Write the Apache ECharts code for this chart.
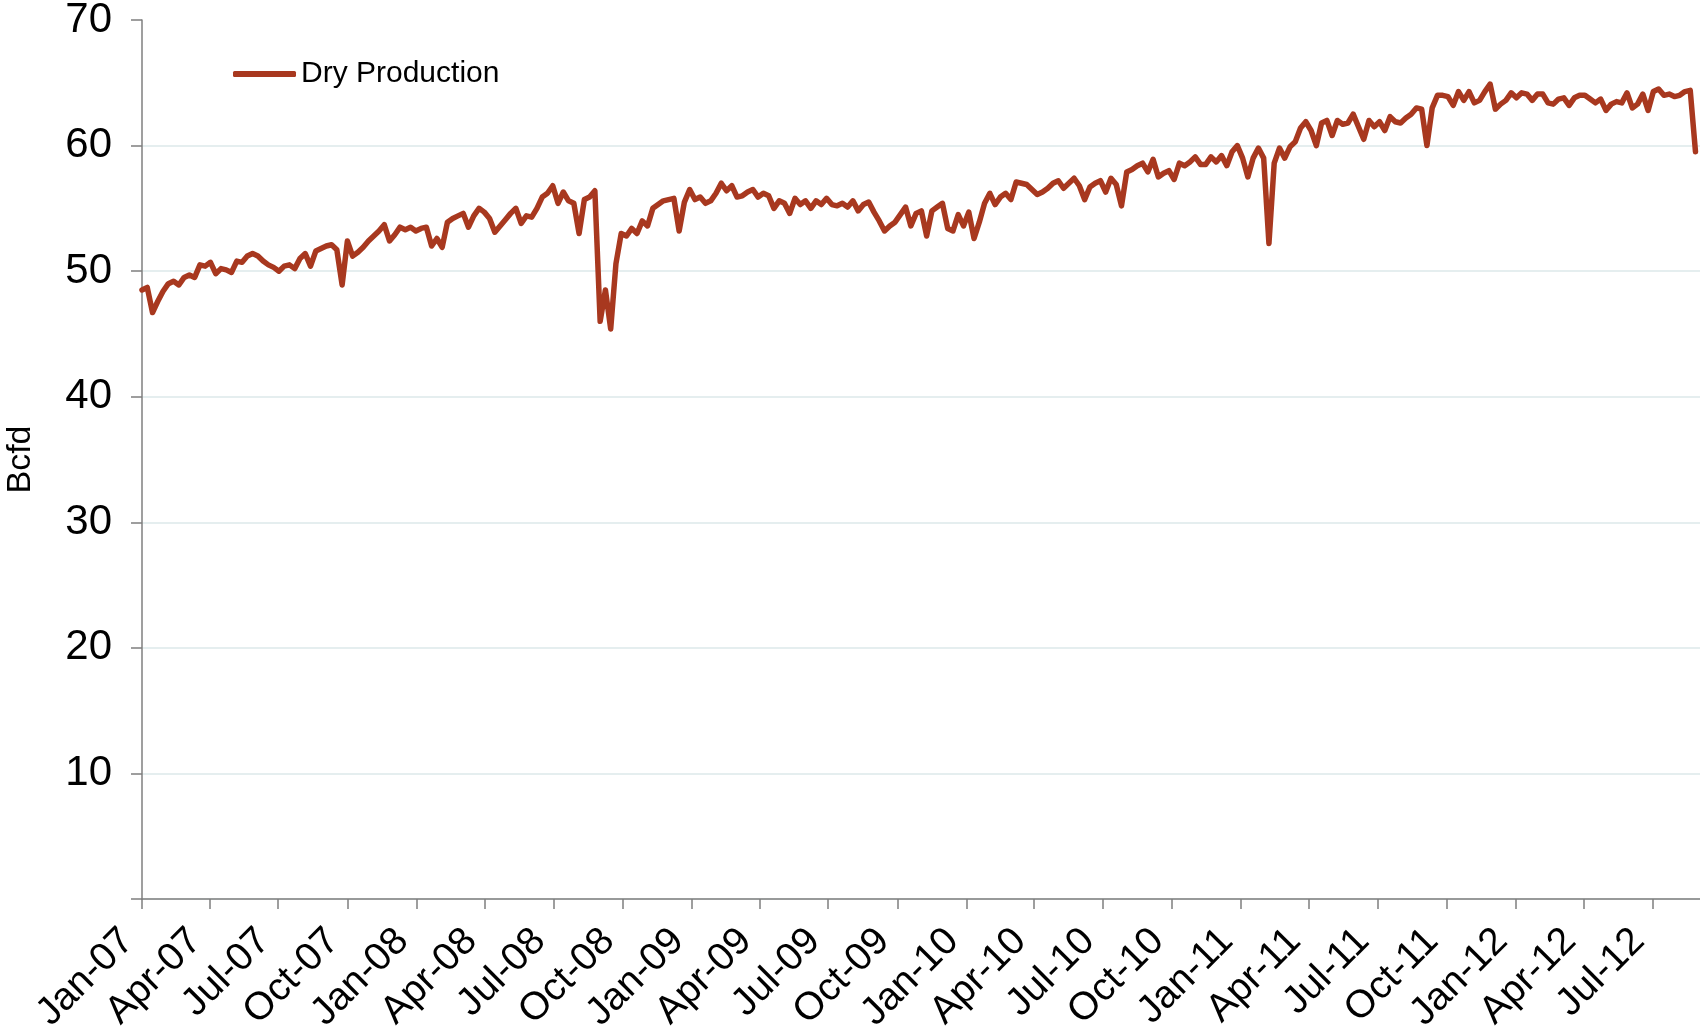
<!DOCTYPE html>
<html>
<head>
<meta charset="utf-8">
<title>Dry Production</title>
<script src="https://cdn.jsdelivr.net/npm/echarts@6/dist/echarts.min.js"></script>
<style>
  html, body { margin: 0; padding: 0; background: #fff; }
  #chart { width: 1700px; height: 1029px; }
</style>
</head>
<body>
<div id="chart"></div>
<script>
// weekly readings, consecutive weeks starting 2007-01-01 (Bcfd)
const startDate = '2007-01-01';
const stepDays = 7;

const dry2007 = [48.5, 48.7, 46.7, 47.6, 48.4, 49.0, 49.2, 48.9, 49.5, 49.7, 49.5, 50.5, 50.4,
	50.7, 49.8, 50.2, 50.1, 49.9, 50.8, 50.7, 51.2, 51.4, 51.2, 50.8, 50.5, 50.3,
	50.0, 50.4, 50.5, 50.2, 51.0, 51.4, 50.4, 51.6, 51.8, 52.0, 52.1, 51.7, 48.9,
	52.4, 51.2, 51.5, 51.9, 52.4, 52.8, 53.2, 53.7, 52.4, 52.9, 53.5, 53.3, 53.5, 53.2];
const dry2008 = [53.4, 53.5, 52.0, 52.6, 51.9, 53.9, 54.2, 54.4, 54.6, 53.5, 54.4, 55.0, 54.7,
	54.2, 53.1, 53.6, 54.1, 54.6, 55.0, 53.8, 54.4, 54.3, 55.0, 55.9, 56.2, 56.8,
	55.4, 56.3, 55.6, 55.4, 53.0, 55.7, 55.9, 56.4, 46.0, 48.5, 45.4, 50.6, 53.0,
	52.8, 53.4, 53.0, 54.0, 53.6, 55.0, 55.3, 55.6, 55.7, 55.8, 53.2, 55.5, 56.5];
const dry2009 = [55.7, 55.9, 55.4, 55.6, 56.2, 57.0, 56.4, 56.8, 55.9, 56.0, 56.3, 56.5, 55.9,
	56.2, 56.0, 55.0, 55.6, 55.4, 54.6, 55.8, 55.3, 55.6, 55.0, 55.6, 55.3, 55.8,
	55.3, 55.2, 55.4, 55.1, 55.6, 54.8, 55.3, 55.5, 54.7, 54.0, 53.2, 53.6, 53.9,
	54.5, 55.1, 53.6, 54.6, 54.8, 52.8, 54.8, 55.1, 55.4, 53.4, 53.2, 54.5, 53.6];
const dry2010 = [54.7, 52.6, 53.9, 55.4, 56.2, 55.3, 55.9, 56.2, 55.7, 57.1, 57.0, 56.9, 56.5,
	56.1, 56.3, 56.6, 57.0, 57.2, 56.6, 57.0, 57.4, 56.8, 55.7, 56.7, 57.0, 57.2,
	56.3, 57.4, 56.9, 55.2, 57.9, 58.1, 58.4, 58.6, 57.9, 58.9, 57.5, 57.8, 58.0,
	57.3, 58.6, 58.4, 58.7, 59.1, 58.5, 58.5, 59.1, 58.7, 59.2, 58.4, 59.5, 60.0];
const dry2011 = [59.0, 57.5, 59.0, 59.8, 59.0, 52.2, 58.6, 59.8, 59.0, 59.9, 60.3, 61.4, 61.9,
	61.2, 60.0, 61.8, 62.0, 60.8, 62.0, 61.7, 61.8, 62.5, 61.5, 60.5, 62.0, 61.5,
	61.9, 61.2, 62.3, 61.9, 61.8, 62.2, 62.5, 63.0, 62.9, 60.0, 63.0, 64.0, 64.0,
	63.9, 63.2, 64.3, 63.6, 64.3, 63.4, 63.6, 64.3, 64.9, 62.9, 63.3, 63.6, 64.2];
const dry2012 = [63.8, 64.2, 64.1, 63.6, 64.1, 64.1, 63.4, 63.3, 63.7, 63.8, 63.2, 63.8, 64.0,
	64.0, 63.7, 63.4, 63.7, 62.8, 63.3, 63.5, 63.4, 64.2, 63.0, 63.3, 64.1, 62.8,
	64.3, 64.5, 64.0, 64.1, 63.9, 64.0, 64.3, 64.4, 59.5];

const tickLabels = ['Jan-07', 'Apr-07', 'Jul-07', 'Oct-07', 'Jan-08', 'Apr-08', 'Jul-08', 'Oct-08',
	'Jan-09', 'Apr-09', 'Jul-09', 'Oct-09', 'Jan-10', 'Apr-10', 'Jul-10', 'Oct-10',
	'Jan-11', 'Apr-11', 'Jul-11', 'Oct-11', 'Jan-12', 'Apr-12', 'Jul-12'];
const axisEndDate = '2012-09-02';

const months = ['Jan', 'Feb', 'Mar', 'Apr', 'May', 'Jun', 'Jul', 'Aug', 'Sep', 'Oct', 'Nov', 'Dec'];
const dayMs = 86400000;
const t0 = Date.parse(startDate + 'T00:00:00Z');

// day offset of the first day of each labelled month
const tickDays = tickLabels.map((lab) => {
	const [mon, yy] = lab.split('-');
	const t = Date.UTC(2000 + parseInt(yy), months.indexOf(mon), 1);
	return Math.round((t - t0) / dayMs);
});
const axisMax = Math.round((Date.parse(axisEndDate + 'T00:00:00Z') - t0) / dayMs);

const allValues = [].concat(dry2007, dry2008, dry2009, dry2010, dry2011, dry2012);
const seriesData = allValues.map((v, i) => [i * stepDays, v]);

const font = 'Liberation Sans, Arial, sans-serif';
const lineColor = '#a8381f';
const axisColor = '#7f7f7f';

var myChart = echarts.init(document.getElementById('chart'), null, { renderer: 'canvas' });

var option = {
	animation: false,
	backgroundColor: '#ffffff',
	grid: {
		left: 142,
		right: 0,
		top: 20,
		bottom: 130,
		containLabel: false,
		outerBoundsMode: 'none'
	},
	legend: {
		data: ['Dry Production'],
		left: 228,
		top: 54,
		icon: 'roundRect',
		itemWidth: 63,
		itemHeight: 6,
		itemGap: 10,
		textStyle: {
			fontFamily: font,
			fontSize: 30,
			color: '#000'
		}
	},
	xAxis: {
		type: 'value',
		min: 0,
		max: axisMax,
		splitLine: { show: false },
		axisLine: {
			show: true,
			onZero: false,
			lineStyle: { color: axisColor, width: 1.5 }
		},
		axisTick: {
			show: true,
			inside: false,
			length: 10,
			customValues: tickDays,
			lineStyle: { color: axisColor, width: 1.5 }
		},
		axisLabel: {
			show: true,
			rotate: 45,
			margin: 22,
			padding: [0, 20, 0, 0],
			fontFamily: font,
			fontSize: 39,
			color: '#000',
			customValues: tickDays,
			formatter: (val) => {
				const k = tickDays.indexOf(Math.round(val));
				return k >= 0 ? tickLabels[k] : '';
			}
		}
	},
	yAxis: {
		type: 'value',
		min: 0,
		max: 70,
		interval: 10,
		name: 'Bcfd',
		nameLocation: 'middle',
		nameRotate: 90,
		nameGap: 104,
		nameTextStyle: {
			fontFamily: font,
			fontSize: 34,
			color: '#000'
		},
		axisLine: {
			show: true,
			lineStyle: { color: axisColor, width: 1.5 }
		},
		axisTick: {
			show: true,
			inside: false,
			length: 11,
			lineStyle: { color: axisColor, width: 1.5 }
		},
		axisLabel: {
			margin: 30,
			fontFamily: font,
			fontSize: 42,
			color: '#000',
			formatter: (val) => (val === 0 ? '' : String(val))
		},
		splitLine: {
			show: true,
			showMaxLine: false,
			lineStyle: { color: '#dde8ea', width: 1.5 }
		}
	},
	series: [
		{
			name: 'Dry Production',
			type: 'line',
			data: seriesData,
			symbol: 'none',
			smooth: false,
			color: lineColor,
			lineStyle: {
				color: lineColor,
				width: 5.5,
				join: 'round',
				cap: 'round'
			}
		}
	]
};

myChart.setOption(option);
</script>
</body>
</html>
